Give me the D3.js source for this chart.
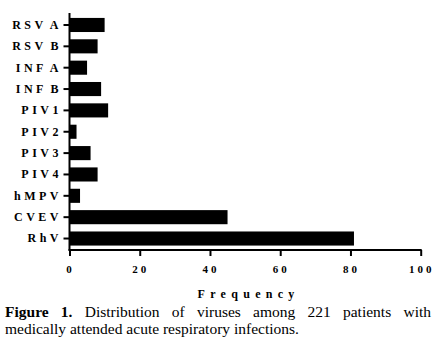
<!DOCTYPE html>
<html><head><meta charset="utf-8">
<script src="https://cdn.jsdelivr.net/npm/d3@7"></script>
<style>
html,body{margin:0;padding:0;background:#fff;}
svg{display:block;}
</style></head>
<body>
<svg id="chart" width="440" height="341"></svg>
<script>
const categories = ["RSV A","RSV B","INF A","INF B","PIV1","PIV2","PIV3","PIV4","hMPV","CVEV","RhV"];
const frequency = [10,8,5,9,11,2,6,8,3,45,81];
const xTicks = [0,20,40,60,80,100];
const xTitle = "Frequency";
const captionBold = ["Figure","1."];
const captionLine1 = "Distribution of viruses among 221 patients with";
const captionLine2 = "medically attended acute respiratory infections.";

const FONT = '"Liberation Serif"';
const svg = d3.select("#chart");
const x = d3.scaleLinear().domain([0,100]).range([69.5,420.7]);
const y = d3.scaleBand().domain(categories).range([14.3,249.2]).paddingInner(0.34).paddingOuter(0.17);

svg.append("g").selectAll("rect").data(categories).join("rect")
  .attr("x", x(0)).attr("y", d=>y(d))
  .attr("width", (d,i)=>x(frequency[i])-x(0))
  .attr("height", y.bandwidth()).attr("fill","#000");

// y axis
const yAxis = svg.append("g").attr("transform",`translate(${x(0)},0)`)
  .call(d3.axisLeft(y).tickSize(6).tickPadding(5).tickSizeOuter(0));
yAxis.select(".domain").attr("stroke","#000").attr("stroke-width",2).attr("d","M0,13V250.5");
yAxis.selectAll(".tick line").attr("stroke","#000").attr("stroke-width",2);
yAxis.selectAll(".tick text").style("font-family",FONT).style("font-size","12px")
  .style("font-weight","bold").attr("fill","#000").style("letter-spacing","3.5px")
  .style("word-spacing","-2.5px").attr("dx","3.5");

// x axis
const xAxis = svg.append("g").attr("transform","translate(0,250)")
  .call(d3.axisBottom(x).tickValues(xTicks).tickSize(6).tickPadding(9).tickSizeOuter(0));
xAxis.select(".domain").attr("stroke","#000").attr("stroke-width",2).attr("d",`M${x(0)-1},0H${x(100)+1}`);
xAxis.selectAll(".tick line").attr("stroke","#000").attr("stroke-width",2);
xAxis.selectAll(".tick text").style("font-family",FONT).style("font-size","11px")
  .style("font-weight","bold").attr("fill","#000").style("letter-spacing","3px").attr("dx","0.5");

svg.append("text").attr("x",(x(0)+x(100))/2+3.5).attr("y",298).attr("text-anchor","middle")
  .style("font-family",FONT).style("font-size","12px").style("font-weight","bold")
  .style("letter-spacing","5.3px").text(xTitle);

// caption line 1 (justified)
const tokens = captionBold.concat(captionLine1.split(" "));
const cap = svg.append("g").attr("fill","#000");
const tnodes = tokens.map((w,i)=>cap.append("text").attr("y",317)
  .style("font-family",FONT).style("font-size","15.5px")
  .style("font-weight", i<2 ? "bold":"normal").text(w));
const left = 5, right = 431;
const widths = tnodes.map(n=>n.node().getComputedTextLength());
const total = d3.sum(widths);
const gap = (right-left-total)/(tokens.length-1);
let cx = left;
tnodes.forEach((n,i)=>{ n.attr("x",cx); cx += widths[i]+gap; });
cap.append("text").attr("x",left).attr("y",334)
  .style("font-family",FONT).style("font-size","15.5px").text(captionLine2);
</script>
</body></html>
